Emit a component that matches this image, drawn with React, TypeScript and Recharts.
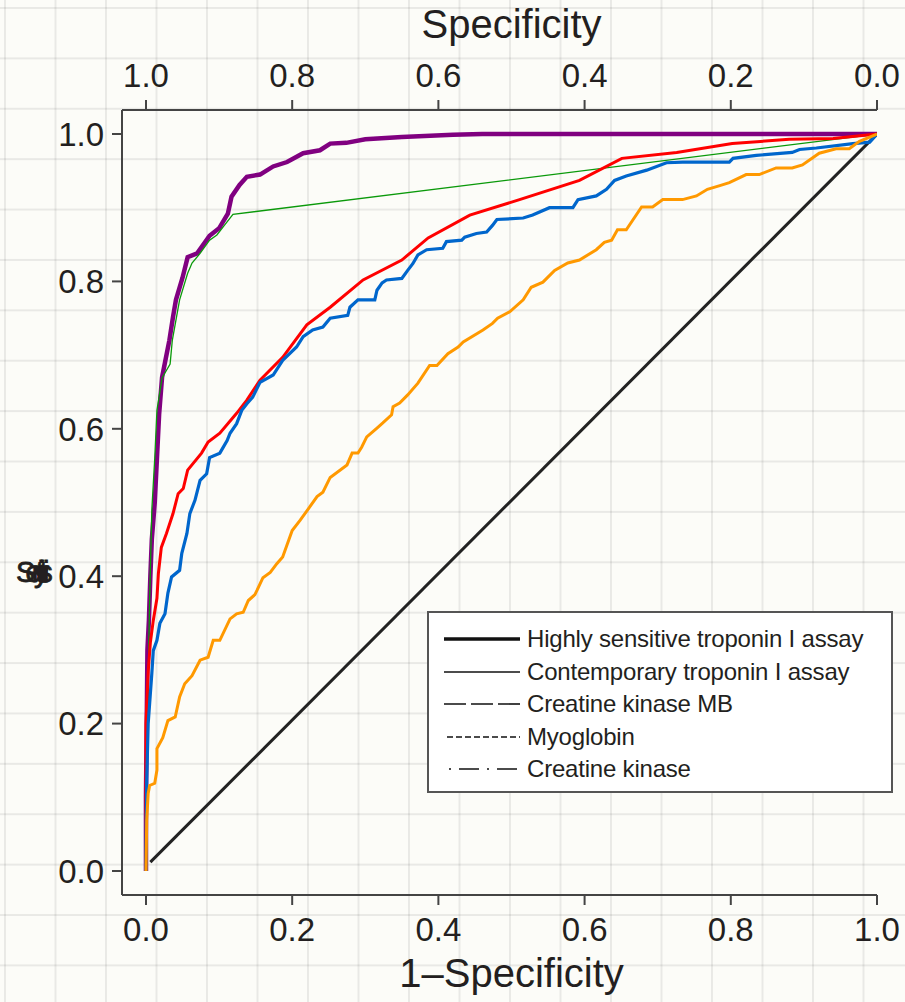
import { LineChart, Line, XAxis, YAxis, Legend } from "recharts"

// ROC curves, as [1-specificity, sensitivity]
const fprTicks = [0, 0.2, 0.4, 0.6, 0.8, 1]
const sensTicks = [0, 0.2, 0.4, 0.6, 0.8, 1]
const specLabels = ["1.0", "0.8", "0.6", "0.4", "0.2", "0.0"]

const hsTroponinPts = [
  [0, 0], [0, 0.1], [0.001, 0.2], [0.002, 0.3], [0.004, 0.34], [0.006, 0.4], [0.008, 0.45],
  [0.012, 0.5], [0.015, 0.56], [0.018, 0.62], [0.022, 0.67], [0.026, 0.69], [0.032, 0.72],
  [0.037, 0.752], [0.041, 0.775], [0.05, 0.805], [0.057, 0.833], [0.07, 0.838], [0.087, 0.862],
  [0.1, 0.872], [0.112, 0.892], [0.117, 0.915], [0.128, 0.931], [0.138, 0.942], [0.156, 0.945],
  [0.174, 0.956], [0.193, 0.962], [0.215, 0.974], [0.238, 0.978], [0.252, 0.987], [0.274, 0.988],
  [0.3, 0.993], [0.35, 0.996], [0.42, 0.999], [0.46, 1], [1, 1],
]

const contTroponinPts = [
  [0, 0], [0.002, 0.2], [0.005, 0.367], [0.008, 0.49], [0.012, 0.56], [0.015, 0.625],
  [0.022, 0.669], [0.033, 0.688], [0.036, 0.72], [0.046, 0.775], [0.057, 0.811], [0.063, 0.825],
  [0.074, 0.838], [0.087, 0.856], [0.097, 0.863], [0.108, 0.877], [0.119, 0.891], [1, 1],
]

const ckmbPts = [
  [0, 0], [0, 0.2], [0.003, 0.27], [0.006, 0.31], [0.01, 0.34], [0.015, 0.37], [0.017, 0.404],
  [0.021, 0.439], [0.028, 0.458], [0.037, 0.485], [0.044, 0.512], [0.051, 0.519], [0.057, 0.544],
  [0.076, 0.567], [0.085, 0.582], [0.101, 0.594], [0.124, 0.621], [0.138, 0.639], [0.156, 0.666],
  [0.187, 0.697], [0.22, 0.741], [0.252, 0.765], [0.297, 0.802], [0.35, 0.829], [0.386, 0.859],
  [0.443, 0.89], [0.511, 0.911], [0.593, 0.937], [0.651, 0.967], [0.726, 0.975], [0.802, 0.987],
  [0.88, 0.993], [0.94, 0.994], [1, 1],
]

const myoglobinPts = [
  [0, 0], [0, 0.032], [0.001, 0.123], [0.003, 0.2], [0.008, 0.268], [0.01, 0.299], [0.015, 0.313],
  [0.019, 0.336], [0.026, 0.349], [0.03, 0.377], [0.035, 0.399], [0.046, 0.408], [0.049, 0.431],
  [0.056, 0.458], [0.06, 0.485], [0.067, 0.503], [0.074, 0.53], [0.083, 0.539], [0.087, 0.561],
  [0.101, 0.567], [0.111, 0.584], [0.115, 0.594], [0.124, 0.607], [0.131, 0.625], [0.138, 0.634],
  [0.146, 0.643], [0.156, 0.663], [0.174, 0.673], [0.187, 0.693], [0.206, 0.711], [0.215, 0.725],
  [0.228, 0.734], [0.242, 0.738], [0.252, 0.75], [0.276, 0.754], [0.279, 0.765], [0.29, 0.775],
  [0.313, 0.775], [0.316, 0.788], [0.323, 0.798], [0.329, 0.802], [0.35, 0.804], [0.358, 0.815],
  [0.365, 0.824], [0.372, 0.836], [0.384, 0.843], [0.406, 0.845], [0.411, 0.854], [0.432, 0.856],
  [0.436, 0.86], [0.452, 0.865], [0.466, 0.867], [0.474, 0.876], [0.48, 0.884], [0.516, 0.886],
  [0.529, 0.89], [0.552, 0.9], [0.584, 0.9], [0.591, 0.911], [0.616, 0.916], [0.63, 0.925],
  [0.641, 0.937], [0.657, 0.943], [0.685, 0.951], [0.712, 0.961], [0.734, 0.962], [0.798, 0.962],
  [0.803, 0.967], [0.835, 0.971], [0.884, 0.975], [0.894, 0.979], [0.917, 0.981], [0.967, 0.987],
  [0.99, 0.989], [1, 1],
]

const ckPts = [
  [0, 0], [0.001, 0.069], [0.003, 0.105], [0.005, 0.116], [0.012, 0.119], [0.015, 0.137],
  [0.015, 0.166], [0.023, 0.181], [0.03, 0.204], [0.04, 0.209], [0.046, 0.236], [0.053, 0.254],
  [0.063, 0.265], [0.074, 0.286], [0.085, 0.29], [0.092, 0.313], [0.101, 0.313], [0.115, 0.342],
  [0.124, 0.349], [0.133, 0.351], [0.14, 0.367], [0.149, 0.375], [0.152, 0.381], [0.16, 0.398],
  [0.17, 0.405], [0.179, 0.417], [0.187, 0.426], [0.2, 0.462], [0.211, 0.476], [0.224, 0.494],
  [0.234, 0.508], [0.242, 0.514], [0.252, 0.534], [0.275, 0.551], [0.282, 0.567], [0.29, 0.567],
  [0.295, 0.575], [0.302, 0.589], [0.316, 0.601], [0.324, 0.608], [0.336, 0.619], [0.338, 0.63],
  [0.347, 0.635], [0.358, 0.646], [0.372, 0.662], [0.388, 0.686], [0.398, 0.686], [0.413, 0.702],
  [0.427, 0.711], [0.434, 0.718], [0.461, 0.734], [0.474, 0.743], [0.481, 0.75], [0.498, 0.759],
  [0.516, 0.775], [0.527, 0.792], [0.543, 0.799], [0.559, 0.815], [0.577, 0.825], [0.593, 0.829],
  [0.616, 0.843], [0.627, 0.853], [0.637, 0.856], [0.645, 0.87], [0.657, 0.87], [0.678, 0.901],
  [0.693, 0.901], [0.707, 0.911], [0.734, 0.911], [0.753, 0.916], [0.768, 0.925], [0.785, 0.93],
  [0.798, 0.934], [0.821, 0.945], [0.839, 0.945], [0.862, 0.954], [0.884, 0.954], [0.898, 0.958],
  [0.921, 0.974], [0.944, 0.98], [0.962, 0.98], [0.976, 0.99], [1, 1],
]

const chancePts = [[0.006, 0.012], [1, 1]]

const legendLabels = [
  "Highly sensitive troponin I assay",
  "Contemporary troponin I assay",
  "Creatine kinase MB",
  "Myoglobin",
  "Creatine kinase",
]

const toRows = (pts: number[][]) => pts.map(([fpr, tpr]) => ({ fpr, tpr }))

const FONT = '"Liberation Sans", Arial, Helvetica, sans-serif'
const INK = "#231f20"
const AXIS = "#444"

const legendStyles = [
  { w: 3.5, dash: undefined, x0: 15 },
  { w: 1.6, dash: undefined, x0: 15 },
  { w: 1.6, dash: "22 5", x0: 15 },
  { w: 1.6, dash: "6 3", x0: 18 },
  { w: 1.6, dash: "2 8 20 8", x0: 20 },
]

function LegendBox() {
  return (
    <div
      style={{
        width: 462,
        height: 178,
        border: "2px solid #555",
        background: "#fff",
        fontFamily: FONT,
        color: INK,
        fontSize: 24,
        position: "relative",
      }}
    >
      {legendLabels.map((label, i) => (
        <div
          key={label}
          style={{ position: "absolute", left: 0, top: 26 + i * 32.5 - 14, height: 28, display: "flex", alignItems: "center" }}
        >
          <svg width={98} height={28} style={{ display: "block" }}>
            <line
              x1={legendStyles[i].x0}
              x2={91}
              y1={14}
              y2={14}
              stroke="#111"
              strokeWidth={legendStyles[i].w}
              strokeDasharray={legendStyles[i].dash}
            />
          </svg>
          <span style={{ whiteSpace: "nowrap", letterSpacing: -0.2 }}>{label}</span>
        </div>
      ))}
    </div>
  )
}

function SensLabel(props: any) {
  return (
    <text x={16} y={582} fontSize={29} fill={INK} fontFamily={FONT} letterSpacing={-9.8} stroke={INK} strokeWidth={0.8}>
      {props.value}
    </text>
  )
}

const tickStyle = { fontSize: 33, fill: INK, fontFamily: FONT }

export default function App() {
  return (
    <div
      style={{
        position: "absolute",
        left: 0,
        top: 0,
        width: 905,
        height: 1002,
        backgroundColor: "#fcfcf8",
        backgroundImage:
          "linear-gradient(to right, rgba(0,0,0,0.075) 0px, rgba(0,0,0,0.075) 2px, transparent 2px), linear-gradient(to bottom, rgba(0,0,0,0.075) 0px, rgba(0,0,0,0.075) 2px, transparent 2px)",
        backgroundSize: "50.5px 50.4px",
        backgroundPosition: "4px 0px, 0px 7px",
      }}
    >
      <LineChart width={905} height={1002} margin={{ top: 50, right: 28, bottom: 47, left: 22 }}>
        <XAxis
          xAxisId="bottom"
          dataKey="fpr"
          type="number"
          domain={[-0.0328, 1]}
          allowDataOverflow
          ticks={fprTicks}
          tickFormatter={(v: number) => v.toFixed(1)}
          height={60}
          tickSize={10}
          tickMargin={13}
          tick={tickStyle}
          axisLine={{ stroke: AXIS, strokeWidth: 2 }}
          tickLine={{ stroke: AXIS, strokeWidth: 2 }}
          label={{ value: "1–Specificity", position: "bottom", offset: 4, dx: 12, fontSize: 40, fill: INK, fontFamily: FONT }}
        />
        <XAxis
          xAxisId="top"
          orientation="top"
          dataKey="fpr"
          type="number"
          domain={[-0.0328, 1]}
          allowDataOverflow
          ticks={fprTicks}
          tickFormatter={(_v: number, i: number) => specLabels[i]}
          height={60}
          tickSize={10}
          tickMargin={13}
          tick={tickStyle}
          axisLine={{ stroke: AXIS, strokeWidth: 2 }}
          tickLine={{ stroke: AXIS, strokeWidth: 2 }}
          label={{ value: "Specificity", position: "top", offset: 12, dx: 12, fontSize: 40, fill: INK, fontFamily: FONT }}
        />
        <YAxis
          type="number"
          domain={[-0.0326, 1.0326]}
          allowDataOverflow
          ticks={sensTicks}
          tickFormatter={(v: number) => v.toFixed(1)}
          width={100}
          tickSize={10}
          tickMargin={8}
          tick={tickStyle}
          axisLine={{ stroke: AXIS, strokeWidth: 2 }}
          tickLine={{ stroke: AXIS, strokeWidth: 2 }}
          label={<SensLabel value="Sensitivity" />}
        />
        <Legend
          layout="horizontal"
          verticalAlign="middle"
          align="center"
          content={() => <LegendBox />}
          wrapperStyle={{ left: 427, top: 611, width: 466, height: 182 }}
        />
        <Line xAxisId="bottom" data={toRows(chancePts)} dataKey="tpr" stroke="#222" strokeWidth={3} dot={false} isAnimationActive={false} legendType="none" />
        <Line xAxisId="bottom" data={toRows(hsTroponinPts)} dataKey="tpr" name="Highly sensitive troponin I assay" stroke="#800080" strokeWidth={4.5} dot={false} isAnimationActive={false} />
        <Line xAxisId="bottom" data={toRows(contTroponinPts)} dataKey="tpr" name="Contemporary troponin I assay" stroke="#0a990a" strokeWidth={1.3} dot={false} isAnimationActive={false} />
        <Line xAxisId="bottom" data={toRows(ckmbPts)} dataKey="tpr" name="Creatine kinase MB" stroke="#ff0000" strokeWidth={3} dot={false} isAnimationActive={false} />
        <Line xAxisId="bottom" data={toRows(myoglobinPts)} dataKey="tpr" name="Myoglobin" stroke="#0066cc" strokeWidth={3.2} dot={false} isAnimationActive={false} />
        <Line xAxisId="bottom" data={toRows(ckPts)} dataKey="tpr" name="Creatine kinase" stroke="#ff9900" strokeWidth={3} dot={false} isAnimationActive={false} />
      </LineChart>
    </div>
  )
}
